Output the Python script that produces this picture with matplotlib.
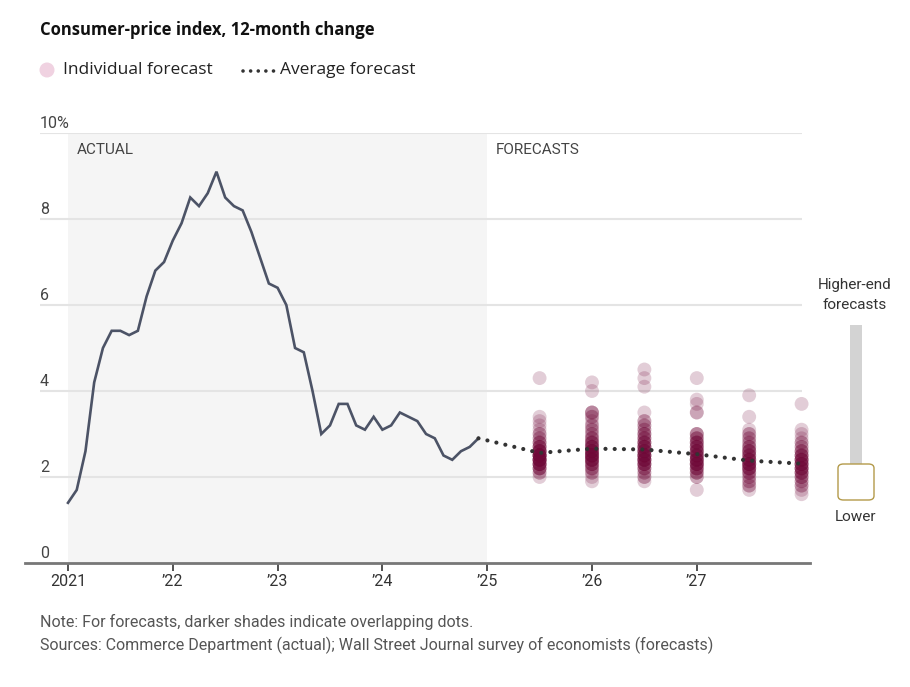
import numpy as np
import matplotlib
matplotlib.use('Agg')
import matplotlib.pyplot as plt
from matplotlib.patches import FancyBboxPatch, Rectangle, Ellipse
from matplotlib.lines import Line2D

NARROW = ['Roboto', 'DejaVu Sans']
REGULAR = ['Open Sans', 'DejaVu Sans']

# actual CPI, 12-month change, Jan 2021 .. Dec 2024
cpi_actual = [1.4, 1.7, 2.6, 4.2, 5.0, 5.4, 5.4, 5.3, 5.4, 6.2, 6.8, 7.0,
              7.5, 7.9, 8.5, 8.3, 8.6, 9.1, 8.5, 8.3, 8.2, 7.7, 7.1, 6.5,
              6.4, 6.0, 5.0, 4.9, 4.0, 3.0, 3.2, 3.7, 3.7, 3.2, 3.1, 3.4,
              3.1, 3.2, 3.5, 3.4, 3.3, 3.0, 2.9, 2.5, 2.4, 2.6, 2.7, 2.9]

forecast_dates = [2025.5, 2026.0, 2026.5, 2027.0, 2027.5, 2028.0]
forecast_avg = [2.56, 2.66, 2.64, 2.53, 2.38, 2.31]

# individual forecasts: value -> number of economists
fc_values = [
    [4.3, 3.4, 3.3, 3.2, 3.1, 3.0, 2.9, 2.8, 2.7, 2.6, 2.5, 2.4, 2.3, 2.2, 2.1, 2.0],
    [4.2, 4.0, 3.5, 3.4, 3.3, 3.2, 3.1, 3.0, 2.9, 2.8, 2.7, 2.6, 2.5, 2.4, 2.3, 2.2, 2.1, 2.0, 1.9],
    [4.5, 4.3, 4.1, 3.5, 3.3, 3.2, 3.1, 3.0, 2.9, 2.8, 2.7, 2.6, 2.5, 2.4, 2.3, 2.2, 2.1, 2.0, 1.9],
    [4.3, 3.8, 3.7, 3.5, 3.0, 2.9, 2.8, 2.7, 2.6, 2.5, 2.4, 2.3, 2.2, 2.1, 2.0, 1.7],
    [3.9, 3.4, 3.1, 3.0, 2.9, 2.8, 2.7, 2.6, 2.5, 2.4, 2.3, 2.2, 2.1, 2.0, 1.9, 1.8, 1.7],
    [3.7, 3.1, 3.0, 2.9, 2.8, 2.7, 2.6, 2.5, 2.4, 2.3, 2.2, 2.1, 2.0, 1.9, 1.8, 1.7, 1.6],
]
fc_counts = [
    [1, 1, 1, 1, 1, 2, 2, 3, 4, 6, 8, 8, 6, 4, 2, 1],
    [1, 1, 3, 2, 1, 2, 2, 2, 3, 4, 5, 6, 7, 6, 4, 3, 2, 1, 1],
    [1, 1, 1, 1, 2, 2, 2, 3, 3, 4, 5, 5, 6, 6, 5, 3, 2, 2, 1],
    [1, 1, 1, 2, 3, 3, 4, 4, 5, 5, 6, 6, 4, 3, 2, 1],
    [1, 1, 1, 2, 2, 2, 3, 4, 4, 5, 6, 5, 3, 2, 2, 2, 1],
    [1, 1, 1, 1, 2, 2, 3, 4, 5, 5, 5, 4, 3, 2, 2, 1, 1],
]

year_ticks = [2021, 2022, 2023, 2024, 2025, 2026, 2027]
year_labels = ['2021', "\u201922", "\u201923", "\u201924", "\u201925", "\u201926", "\u201927"]
y_ticks = [0, 2, 4, 6, 8, 10]
y_labels = ['0', '2', '4', '6', '8', '10%']

DOT = '#700838'
LINE = '#4c5366'
GRID = '#e4e4e4'

fig = plt.figure(figsize=(9.1, 6.87), dpi=100)
ax = fig.add_axes([40 / 910, 1 - 563 / 687, 762 / 910, 430 / 687])
x0 = 2021 - 28 / 104.8
ax.set_xlim(x0, 2028.004)
ax.set_ylim(0, 10)
for s in ax.spines.values():
    s.set_visible(False)
ax.set_yticks([])
ax.set_xticks(year_ticks)
ax.set_xticklabels(year_labels, fontfamily=NARROW, fontsize=11.5, color='#333333')
ax.tick_params(axis='x', length=6, width=1.2, color='#333333', pad=2)

# shaded actual period
ax.add_patch(Rectangle((2021, 0), 4, 10, facecolor='#f5f5f5', edgecolor='none', zorder=0))

for v, lab in zip(y_ticks, y_labels):
    if v > 0:
        ax.axhline(v, color=GRID, lw=1.5, zorder=1)
    ax.text(x0, v + 0.05, lab, ha='left', va='bottom', fontfamily=NARROW,
            fontsize=11.5, color='#444444')
ax.plot([-0.02, 1.01], [0, 0], transform=ax.transAxes, color='#777777', lw=2,
        clip_on=False, zorder=3)

ax.text(2021.08, 9.6, 'ACTUAL', ha='left', va='center', fontfamily=NARROW,
        fontsize=11, color='#444444')
ax.text(2025.08, 9.6, 'FORECASTS', ha='left', va='center', fontfamily=NARROW,
        fontsize=11, color='#444444')

months = 2021 + np.arange(len(cpi_actual)) / 12
ax.plot(months, cpi_actual, color=LINE, lw=1.9, zorder=4, solid_joinstyle='miter')

for d, vals, cnts in zip(forecast_dates, fc_values, fc_counts):
    ys = np.repeat(vals, cnts)
    ax.scatter(np.full(len(ys), d), ys, s=100, color=DOT, alpha=0.2,
               edgecolors='none', zorder=5, clip_on=False)

avg_x = [months[-1]] + forecast_dates
avg_y = [cpi_actual[-1]] + forecast_avg
ax.plot(avg_x, avg_y, color='#333333', lw=3, linestyle=(0, (0.01, 2.2)),
        dash_capstyle='round', zorder=6, clip_on=False)

# title and legend
fig.text(40 / 910, 1 - 30 / 687, 'Consumer-price index, 12-month change',
         ha='left', va='center', fontfamily=REGULAR, fontweight='bold',
         fontsize=12, color='#111111')
fig.add_artist(Ellipse((47 / 910, 1 - 70 / 687), 15 / 910, 15 / 687,
                       transform=fig.transFigure, facecolor='#f0d2e1', edgecolor='none'))
fig.text(63 / 910, 1 - 70 / 687, 'Individual forecast', ha='left', va='center',
         fontfamily=REGULAR, fontsize=12.5, color='#222222')
fig.add_artist(Line2D([243 / 910, 274 / 910], [1 - 71 / 687, 1 - 71 / 687],
                      transform=fig.transFigure, color='#333333', lw=2.6,
                      linestyle=(0, (0.01, 2.1)), dash_capstyle='round'))
fig.text(280 / 910, 1 - 70 / 687, 'Average forecast', ha='left', va='center',
         fontfamily=REGULAR, fontsize=12.5, color='#222222')

# slider on the right
fig.text(855 / 910, 1 - 295 / 687, 'Higher-end\nforecasts', ha='center', va='center',
         fontfamily=NARROW, fontsize=11, color='#333333', linespacing=1.5)
fig.add_artist(Rectangle((850 / 910, 1 - 467 / 687), 12 / 910, 142 / 687,
                         transform=fig.transFigure, facecolor='#d3d3d3', edgecolor='none'))
fig.add_artist(FancyBboxPatch((838 / 910, 1 - 500 / 687), 36 / 910, 36 / 687,
                              boxstyle='round,pad=0,rounding_size=0.006',
                              transform=fig.transFigure, facecolor='white',
                              edgecolor='#b39a4a', lw=1))
fig.text(855 / 910, 1 - 517 / 687, 'Lower', ha='center', va='center',
         fontfamily=NARROW, fontsize=11, color='#333333')

# notes
fig.text(40 / 910, 1 - 622 / 687, 'Note: For forecasts, darker shades indicate overlapping dots.',
         ha='left', va='center', fontfamily=NARROW, fontsize=11.5, color='#555555')
fig.text(40 / 910, 1 - 645 / 687,
         'Sources: Commerce Department (actual); Wall Street Journal survey of economists (forecasts)',
         ha='left', va='center', fontfamily=NARROW, fontsize=11.5, color='#555555')

fig.savefig('out.png', dpi=100)
